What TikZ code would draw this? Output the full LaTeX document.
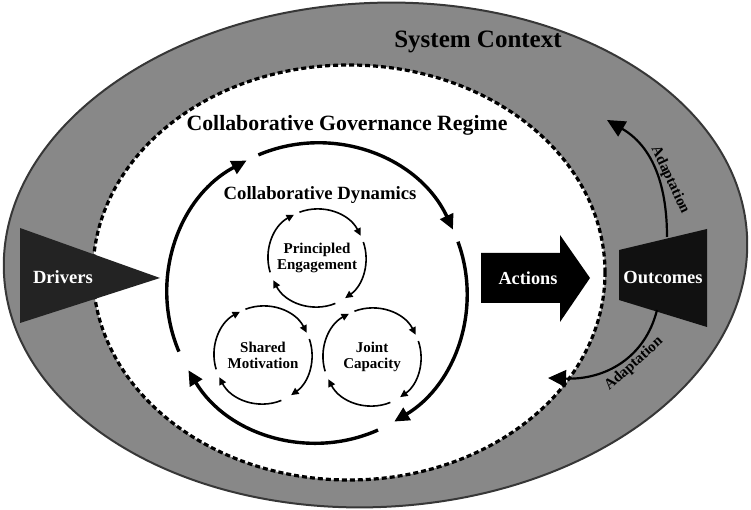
\documentclass[tikz,border=0pt]{standalone}
\usepackage{fontspec}
\setmainfont{Liberation Serif}
\usetikzlibrary{arrows.meta}
\definecolor{ctxgray}{RGB}{136,136,136}
\definecolor{ctxedge}{RGB}{55,55,55}
\definecolor{drvfill}{RGB}{35,35,35}
\definecolor{outfill}{RGB}{17,17,17}
\begin{document}
\begin{tikzpicture}[x=1pt,y=1pt,
  bigarc/.style={line width=3.4pt,-{Triangle[length=15pt,width=14pt]}},
  smallarc/.style={line width=1.6pt,-{Triangle[length=7.5pt,width=7pt]}},
  adaptarrow/.style={line width=2.2pt,-{Triangle[length=18pt,width=17pt]}},
  lbl/.style={font=\bfseries,align=center,inner sep=0pt},
  whitelbl/.style={lbl,text=white}]
\useasboundingbox (0,0) rectangle (751,510);
% system context
\draw[fill=ctxgray,draw=ctxedge,line width=2pt,rotate around={3:(375.5,255)}] (375.5,255) ellipse[x radius=372,y radius=252];
% regime
\draw[fill=white,draw=black,line width=3.2pt,dash pattern=on 5pt off 3pt] (349,237.5) ellipse[x radius=256,y radius=207.5];
\node[lbl,font=\bfseries\fontsize{25}{30}\selectfont] (sysctx) at (478,468) {System Context};
\node[lbl,font=\bfseries\fontsize{21.8}{26}\selectfont] (cgr) at (347,385) {Collaborative Governance Regime};
% collaborative dynamics big circle
\coordinate (bc) at (317,217);
\foreach \a/\b in {203/118,113/25,20/-59,-66/-149}
  \draw[bigarc] ([shift={(\a:150)}]bc) arc[start angle=\a,end angle=\b,radius=150];
\node[lbl,font=\bfseries\fontsize{18.7}{22}\selectfont] (cd) at (320,315) {Collaborative Dynamics};
% small circles
\node[lbl,font=\bfseries\fontsize{15}{16}\selectfont] (pe) at (317,252) {Principled\\Engagement};
\node[lbl,font=\bfseries\fontsize{15}{16}\selectfont] (sm) at (263,155) {Shared\\Motivation};
\node[lbl,font=\bfseries\fontsize{15}{16}\selectfont] (jc) at (372,153) {Joint\\Capacity};
\foreach \c in {pe,sm,jc}
  \foreach \a/\b in {197/118,111/27,19/-55,-68/-153}
    \draw[smallarc] ([shift={(\a:49)}]\c.center) arc[start angle=\a,end angle=\b,radius=49];
% drivers
\fill[drvfill] (20,282) -- (20,187) -- (160,232) -- cycle;
\node[whitelbl,font=\bfseries\fontsize{18.6}{22}\selectfont] (drivers) at (63,233) {Drivers};
% actions
\fill[black] (481,257) -- (560,257) -- (560,275) -- (590,232) -- (560,188) -- (560,207) -- (481,207) -- cycle;
\node[whitelbl,font=\bfseries\fontsize{18.3}{22}\selectfont] (actions) at (528,232) {Actions};
% outcomes
\fill[outfill] (619,260) -- (619,210) -- (707,183) -- (707,281) -- cycle;
\node[whitelbl,font=\bfseries\fontsize{18.5}{22}\selectfont] (outcomes) at (663,233) {Outcomes};
% adaptation
\coordinate (uptop) at (667,273);
\coordinate (uptip) at (607,390);
\coordinate (lowstart) at (657,200);
\coordinate (lowtip) at (548,132);
\draw[adaptarrow] (uptop) .. controls (667,330) and (650,365) .. (uptip);
\draw[adaptarrow] (lowstart) .. controls (645,152) and (605,130) .. (lowtip);
\node[lbl,font=\bfseries\fontsize{15}{18}\selectfont,rotate=-65] (adapt1) at (670,330) {Adaptation};
\node[lbl,font=\bfseries\fontsize{15}{18}\selectfont,rotate=42] (adapt2) at (634,146) {Adaptation};
\end{tikzpicture}
\end{document}
